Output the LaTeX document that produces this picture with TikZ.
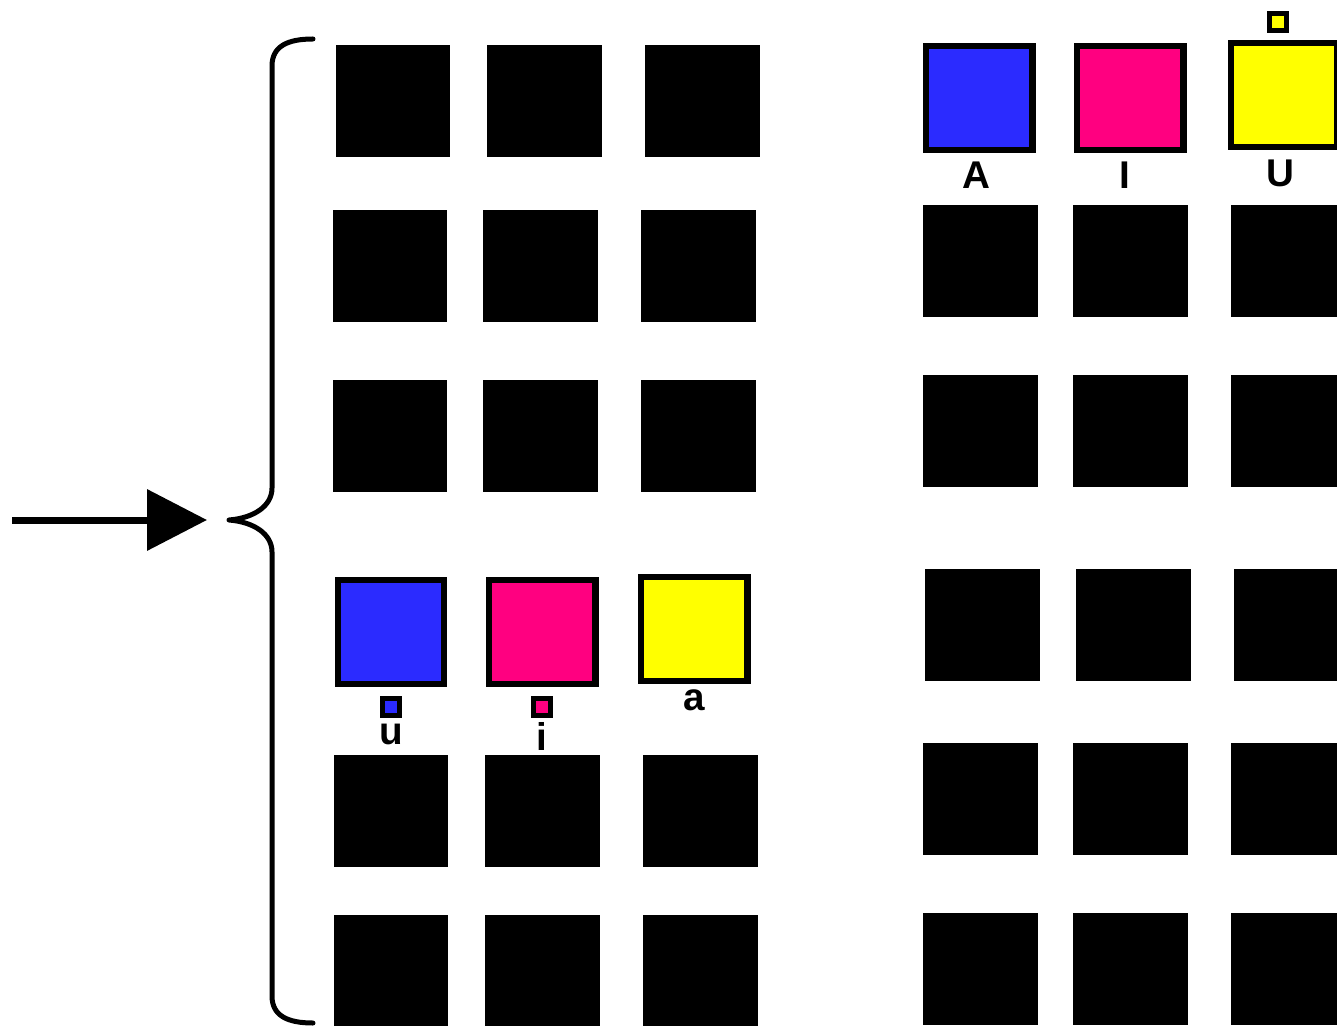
\documentclass[tikz,border=0pt]{standalone}
\usepackage{fontspec}
\setmainfont{Liberation Sans}
\usetikzlibrary{arrows.meta}
\definecolor{vblue}{RGB}{43,43,255}
\definecolor{vpink}{RGB}{255,0,128}
\definecolor{vyellow}{RGB}{255,255,0}

\begin{document}
\begin{tikzpicture}[x=0.02cm,y=-0.02cm,
  blk/.style={rectangle,fill=black,inner sep=0pt,minimum width=2.3cm,minimum height=2.24cm},
  vowel/.style={rectangle,draw=black,line width=0.13cm,inner sep=0pt,minimum width=2.13cm,minimum height=2.09cm},
  smallsq/.style={rectangle,draw=black,line width=0.1cm,inner sep=0pt,minimum size=0.34cm},
  lbl/.style={inner sep=0pt,font=\fontsize{22}{22}\selectfont\bfseries},
  curly/.style={line width=0.1cm,line cap=round,line join=round}]
  \clip (0,0) rectangle (1337,1026);
  % left grid
  \node[blk] (l11) at (393,101) {};
  \node[blk] (l12) at (544,101) {};
  \node[blk] (l13) at (702,101) {};
  \node[blk] (l21) at (390,266) {};
  \node[blk] (l22) at (540,266) {};
  \node[blk] (l23) at (698,266) {};
  \node[blk] (l31) at (390,436) {};
  \node[blk] (l32) at (540,436) {};
  \node[blk] (l33) at (698,436) {};
  \node[vowel,fill=vblue] (l41) at (391,632) {};
  \node[vowel,fill=vpink] (l42) at (542,632) {};
  \node[vowel,fill=vyellow] (l43) at (694,629) {};
  \node[smallsq,fill=vblue] (su) at (391,707) {};
  \node[smallsq,fill=vpink] (si) at (542,707) {};
  \node[lbl] (tu) at (391,734) {u};
  \node[lbl] (ti) at (542,736) {i};
  \node[lbl] (ta) at (694,700) {a};
  \node[blk] (l51) at (391,811) {};
  \node[blk] (l52) at (542,811) {};
  \node[blk] (l53) at (700,811) {};
  \node[blk] (l61) at (391,971) {};
  \node[blk] (l62) at (542,971) {};
  \node[blk] (l63) at (700,971) {};
  % right grid
  \node[vowel,fill=vblue] (r11) at (979,98) {};
  \node[vowel,fill=vpink] (r12) at (1130,98) {};
  \node[vowel,fill=vyellow] (r13) at (1284,95) {};
  \node[smallsq,fill=vyellow] (sU) at (1278,22) {};
  \node[lbl] (tA) at (976,175) {A};
  \node[lbl] (tI) at (1125,175) {I};
  \node[lbl] (tU) at (1280,173) {U};
  \node[blk] (r21) at (980,261) {};
  \node[blk] (r22) at (1130,261) {};
  \node[blk] (r23) at (1288,261) {};
  \node[blk] (r31) at (980,431) {};
  \node[blk] (r32) at (1130,431) {};
  \node[blk] (r33) at (1288,431) {};
  \node[blk] (r41) at (982,625) {};
  \node[blk] (r42) at (1133,625) {};
  \node[blk] (r43) at (1291,625) {};
  \node[blk] (r51) at (980,799) {};
  \node[blk] (r52) at (1130,799) {};
  \node[blk] (r53) at (1288,799) {};
  \node[blk] (r61) at (980,969) {};
  \node[blk] (r62) at (1130,969) {};
  \node[blk] (r63) at (1288,969) {};
  % brace and arrow
  \coordinate (src) at (12,520);
  \coordinate (tip) at (207,520);
  \coordinate (cusp) at (229,520);
  \draw[curly] (313,39) .. controls (288,39) and (272,46) .. (272,66) -- (272,488)
    .. controls (272,506) and (254,518) .. (cusp)
    .. controls (254,522) and (272,534) .. (272,552) -- (272,996)
    .. controls (272,1016) and (288,1023) .. (313,1023);
  \draw[line width=0.14cm,-{Triangle[length=1.2cm,width=1.2cm]}] (src) -- (tip);
\end{tikzpicture}
\end{document}
